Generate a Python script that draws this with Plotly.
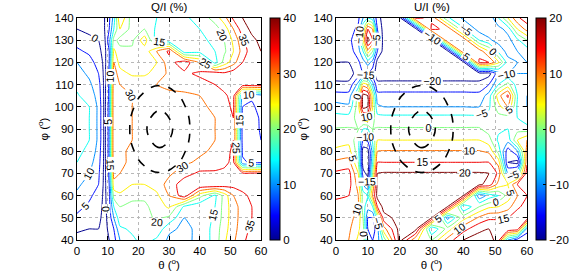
import plotly.graph_objects as go

# ---------------- data ----------------
PHI = [40, 45, 50, 55, 60, 65, 70, 75, 80, 85, 90, 95, 100, 105, 110, 115, 120, 125, 130, 135, 140]

THETA_Q = [0, 4, 7, 9, 10.5, 12, 14, 18, 22, 26, 30, 35, 40, 45, 48, 51, 54, 57, 60]
# Q/I (%) rows: phi = 40 ... 140
QI = [
    [-1, -1, -1, -1.5, 0, 3, 10, 14, 17, 14, 9, 9, 11, 17, 24, 29, 34, 37, 38],
    [0.5, 0, 0, -1.5, 1, 5, 14, 16, 17, 19, 11, 9, 11, 17, 23, 28, 33, 36, 37],
    [4, 2, 1, -1.5, 2, 10, 18, 18, 18, 21, 19, 10, 11, 16, 22, 28, 32, 35, 36],
    [6.5, 4, 2, -1.5, 3, 15, 20, 19, 19, 22, 26, 14, 11, 15, 22, 28, 32, 35, 36],
    [9, 6, 3, -1.5, 4, 22, 24, 21, 21, 24, 30, 38, 22, 14, 22, 30, 34, 36, 36],
    [11, 8, 5, -1.5, 5, 28, 28, 25, 25, 27, 32, 38, 40, 40, 38, 37, 37, 36, 36],
    [13, 10, 6, -1.5, 6, 32, 30, 28, 28, 28, 29, 33, 36, 36, 36, 37, 36, 36, 36],
    [15, 12, 7, -1.5, 7, 34, 31, 29, 28, 28, 28, 29, 31, 32, 34, 36, 6, 4, 4],
    [16, 14, 8, -1.5, 7, 35, 31, 29, 28, 27, 27, 28, 29, 31, 33, 36, 4, 2, 4],
    [17, 15, 9, -1.5, 7, 35, 31, 30, 28, 27, 27, 27, 28, 30, 32, 35, 3, 1, 5],
    [17, 15, 9, -1.5, 7, 35, 31, 30, 28, 27, 27, 27, 28, 30, 32, 35, 3, 1, 6],
    [17, 15, 9, -1.5, 7, 35, 31, 30, 29, 28, 27, 27, 28, 30, 32, 35, 4, 2, 6],
    [16.5, 15, 9, -1.5, 7, 35, 31, 30, 30, 29, 28, 28, 29, 31, 33, 36, 5, 4, 7],
    [15.5, 13, 8, -1.5, 6, 35, 31, 30, 30, 30, 29, 29, 30, 31, 34, 37, 8, 6, 8],
    [14, 11, 7, -1.5, 6, 34, 30, 29, 29, 30, 31, 32, 33, 35, 37, 38, 38, 38, 38],
    [12, 9, 5, -1.5, 6, 33, 27, 24, 24, 27, 31, 34, 36, 38, 36, 38, 38, 38, 39],
    [10, 7, 3, -1.5, 5, 30, 23, 22, 22, 25, 33, 38, 30, 13, 22, 28, 35, 38, 39],
    [6, 4, 1, -1.5, 5, 26, 22, 21, 22, 30, 36, 12, 13, 15, 19, 25, 32, 38, 40],
    [3, 1, 0, -1, 8, 22, 18, 19, 28, 12, 11, 12, 14, 16, 20, 26, 34, 39, 41],
    [0, -1, -1, 0, 5, 15, 25, 18, 20, 14, 12, 13, 15, 18, 22, 30, 38, 41, 42],
    [-2, -2, -1, 0, 4, 12, 30, 17, 18, 15, 13, 14, 17, 22, 28, 36, 40, 42, 43],
]

THETA_U = [0, 4, 7, 8.5, 10, 11.5, 13, 15, 20, 25, 30, 35, 40, 45, 48, 51, 54, 57, 60]
# U/I (%) columns: one list per theta, phi = 40 ... 140
UI_BY_THETA = [
    [11, 12, 13, 14, 15.5, 17, 16, 11, 6, 3, 0.3, -3, -8, -13, -19, -22, -20, -18, -17, -17, -17],
    [10, 11, 12, 13, 15, 17, 17, 12, 7, 3.5, 0.5, -3, -9, -13, -19, -22, -20, -18, -17, -17, -17],
    [4, 6, 8, 10, 10, 8, 5, 0, -3, -3, 0, 2, 3, 2, -8, -18, -16, -12, -10, -14, -16],
    [3, 2, 0, -3, -2, -10, -18, -23, -23, -15, -5, 8, 22, 22, 8, -15, -12, -5, 5, 0, -10],
    [-10, -15, -15, -8, -5, -15, -22, -24, -22, -14, -5, 10, 20, 20, 5, -15, -8, 8, 22, 15, -5],
    [-15, -18, -15, -5, 10, 5, 0, -5, -8, -4, 0, 2, 5, 3, -8, -18, -12, 0, 15, 10, -8],
    [-12, -12, -2, 15, 22, 21, 20, 15, 10, 5, 0.5, -3, -9, -13, -19, -22, -22, -15, -12, -15, -18],
    [-3, 8, 18, 22, 22, 21.5, 20.5, 15, 10.3, 5, 0.5, -3.3, -10, -13, -19, -22, -22, -22, -22, -22, -22],
    [22, 22, 22, 22, 22, 21.5, 20.5, 15, 10.3, 5, 0.5, -3.3, -10, -13, -19, -22, -22, -22, -22, -22, -22],
    [6, 22, 22, 22, 22, 21.5, 20.5, 15, 10.3, 5, 0.5, -3.3, -10, -13, -19, -22, -22, -22, -22, -22, 16],
    [0, -10, 20, 22, 22, 21.5, 20.5, 15, 10.3, 5, 0.5, -3.3, -10, -13, -19, -22, -22, -22, -22, 16, 14],
    [12, 2, -12, 20, 22, 21.5, 20.5, 15, 10.3, 5, 0.5, -3.3, -10, -13, -19, -22, -22, -22, 15, 14, -4],
    [20, 13, 3, -10, 20, 21.5, 20.5, 15, 10.3, 5, 0.5, -3.3, -10, -13, -19, -22, -22, 15, 14, -4, -11],
    [22, 19, 11, 0, -14, 21, 20.5, 15, 10.3, 5, 0.5, -3.3, -10, -13, -19, -22, 16, 13, -5, -12, -14],
    [22, 20, 14, 4, -8, 18, 20, 15, 9, 2, -2, -3, -6, -8, -15, -22, 15, 5, -9, -13, -14],
    [18, 20, 14, 5, -5, 8, 14, 8, -2, -6, -4, -2, 3, 8, -5, -12, 6, -6, -12, -12, -5],
    [-10, 20, 15, 8, 2, 5, -10, -20, -18, -8, -5, -3, 10, 16, 2, -10, -8, -12, -12, -8, 5],
    [-18, 18, 18, 14, 10, 15, -5, -22, -10, 5, -2, -5, -6, -5, -8, -10, -10, -10, -6, 5, 14],
    [-20, -12, 19, 17, 15, 18, 18, 14, 12, 10, -3, -8, -10, -10, -9, -10, -10, -8, 0, 12, 18],
]

# relative intensity (dashed black contours), rows phi = 60 ... 120
THETA_D = [12, 17, 22, 27, 32, 37, 42]
PHI_D = [60, 70, 80, 90, 100, 110, 120]
REL = [
    [-0.06, 0.10, 0.21, 0.25, 0.21, 0.10, -0.06],
    [0.10, 0.29, 0.44, 0.50, 0.44, 0.29, 0.10],
    [0.21, 0.44, 0.65, 0.75, 0.65, 0.44, 0.21],
    [0.25, 0.50, 0.75, 1.00, 0.75, 0.50, 0.25],
    [0.21, 0.44, 0.65, 0.75, 0.65, 0.44, 0.21],
    [0.10, 0.29, 0.44, 0.50, 0.44, 0.29, 0.10],
    [-0.06, 0.10, 0.21, 0.25, 0.21, 0.10, -0.06],
]
REL_LEVELS = (0.51, 0.79)

Q_TICKS = [0, 10, 20, 30, 40]
U_TICKS = [-20, -10, 0, 10, 20]
X_TICKS = [0, 10, 20, 30, 40, 50, 60]
Y_TICKS = [40, 50, 60, 70, 80, 90, 100, 110, 120, 130, 140]

# ---------------- styling ----------------
FONT = "Liberation Sans, Arial, sans-serif"
FS = 11.5
JET = [
    [0.0, "rgb(0,0,143)"], [0.11, "rgb(0,0,255)"], [0.36, "rgb(0,255,255)"],
    [0.5, "rgb(128,255,128)"], [0.61, "rgb(255,255,0)"], [0.86, "rgb(255,0,0)"],
    [1.0, "rgb(128,0,0)"],
]

W, H = 588, 271
def px_x(p):
    return p / W
def px_y(p):
    return 1 - p / H

PLOT_TOP, PLOT_BOT = 18, 240
PANELS = [
    dict(x0=77, x1=261, cb=270, theta=THETA_Q, z=QI, lo=0, hi=40, ticks=Q_TICKS, title="Q/I (%)"),
    dict(x0=336, x1=527, cb=536, theta=THETA_U, z=[list(r) for r in zip(*UI_BY_THETA)],
         lo=-20, hi=20, ticks=U_TICKS, title="U/I (%)"),
]

fig = go.Figure()
layout = dict(
    width=W, height=H, autosize=False,
    margin=dict(l=0, r=0, t=0, b=0, pad=0, autoexpand=False),
    paper_bgcolor="white", plot_bgcolor="white",
    font=dict(family=FONT, size=FS, color="black"),
    showlegend=False, annotations=[],
)

for i, p in enumerate(PANELS):
    sfx = "" if i == 0 else str(i + 1)
    xa, ya = "x" + sfx, "y" + sfx
    fig.add_trace(go.Contour(
        x=p["theta"], y=PHI, z=p["z"], xaxis=xa, yaxis=ya,
        colorscale=JET, showscale=False, zauto=False, zmin=p["lo"], zmax=p["hi"],
        contours=dict(start=p["lo"], end=p["hi"], size=5, coloring="lines",
                      showlabels=True,
                      labelfont=dict(family=FONT, size=10.5, color="black")),
        line=dict(width=1, smoothing=0.4), hoverinfo="skip",
    ))
    fig.add_trace(go.Contour(
        x=THETA_D, y=PHI_D, z=REL, xaxis=xa, yaxis=ya, showscale=False,
        contours=dict(start=REL_LEVELS[0], end=REL_LEVELS[1],
                      size=REL_LEVELS[1] - REL_LEVELS[0], coloring="none"),
        line=dict(color="black", width=1.6, dash="dash", smoothing=1.3),
        hoverinfo="skip",
    ))
    fig.add_trace(go.Scatter(
        x=[None], y=[None], xaxis=xa, yaxis=ya, mode="markers", hoverinfo="skip",
        marker=dict(color=[p["lo"]], cmin=p["lo"], cmax=p["hi"], colorscale=JET,
                    showscale=True,
                    colorbar=dict(
                        x=px_x(p["cb"]), xanchor="left", xpad=0,
                        y=(px_y(PLOT_TOP) + px_y(PLOT_BOT)) / 2, yanchor="middle", ypad=0,
                        len=(PLOT_BOT - PLOT_TOP) / H, lenmode="fraction",
                        thickness=10, thicknessmode="pixels",
                        outlinecolor="black", outlinewidth=1,
                        tickvals=p["ticks"], ticks="inside", ticklen=3,
                        tickcolor="black",
                        tickfont=dict(family=FONT, size=FS, color="black"),
                    )),
    ))
    common = dict(showline=True, linecolor="black", linewidth=1, mirror="ticks",
                  ticks="inside", ticklen=4, tickcolor="black", automargin=False,
                  showgrid=True, gridcolor="#b8b8b8", griddash="dot", gridwidth=1,
                  zeroline=False, tickfont=dict(family=FONT, size=FS, color="black"))
    layout["xaxis" + sfx] = dict(
        common, domain=[px_x(p["x0"]), px_x(p["x1"])], range=[0, 60],
        tickvals=X_TICKS, anchor=ya,
        title=dict(text="θ (<sup>o</sup>)", standoff=1,
                   font=dict(family=FONT, size=FS, color="black")))
    layout["yaxis" + sfx] = dict(
        common, domain=[px_y(PLOT_BOT), px_y(PLOT_TOP)], range=[40, 140],
        tickvals=Y_TICKS, anchor=xa,
        title=dict(text="φ (<sup>o</sup>)", standoff=3,
                   font=dict(family=FONT, size=FS, color="black")))
    layout["annotations"].append(dict(
        text=p["title"], xref="paper", yref="paper",
        x=(px_x(p["x0"]) + px_x(p["x1"])) / 2, y=px_y(PLOT_TOP),
        xanchor="center", yanchor="bottom", yshift=3, showarrow=False,
        font=dict(family=FONT, size=FS, color="black")))

fig.update_layout(**layout)
fig.write_html(
    "out.html",
    config={"displayModeBar": False},
    post_script="document.body.style.margin='0px';document.body.style.padding='0px';",
)
